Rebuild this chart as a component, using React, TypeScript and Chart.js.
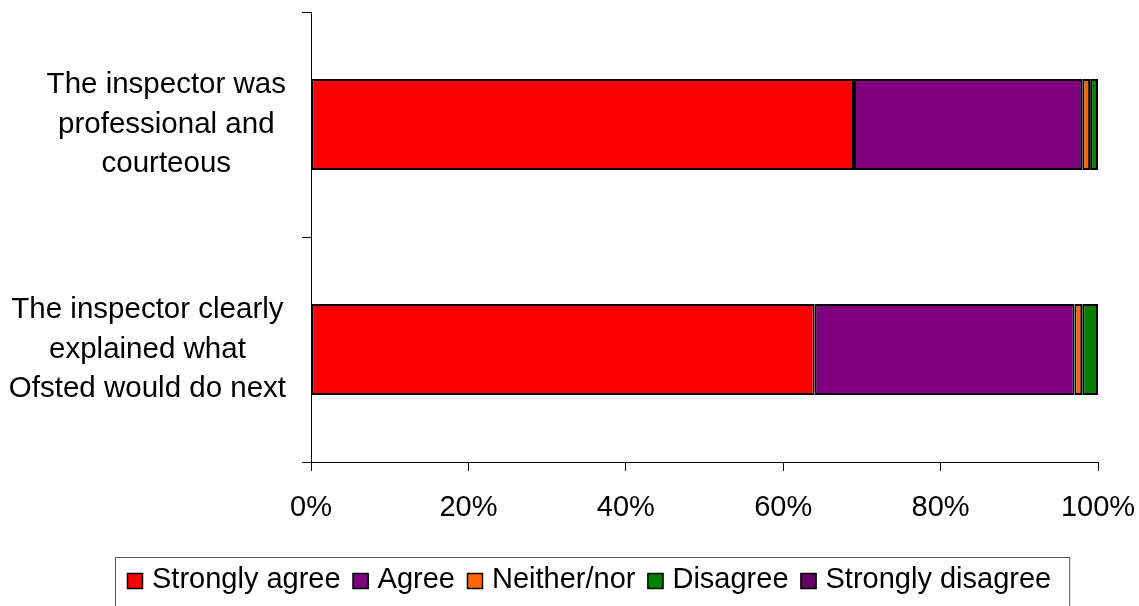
import React, { useEffect, useRef } from "react";
import { Chart, registerables } from "chart.js";

Chart.register(...registerables);

// Survey statements (one label per line)
const categories: string[][] = [
  ["The inspector was", "professional and", "courteous"],
  ["The inspector clearly", "explained what", "Ofsted would do next"],
];

// Share of responses (%) per statement
const stronglyAgree = [69, 64];
const agree = [29, 33];
const neitherNor = [1, 1];
const disagree = [1, 2];
const stronglyDisagree = [0, 0];

const seriesNames = ["Strongly agree", "Agree", "Neither/nor", "Disagree", "Strongly disagree"];
const seriesColors = ["#FF0000", "#800080", "#FF6600", "#008000", "#660066"];

const xTicks = [0, 20, 40, 60, 80, 100];

const FONT = '"Liberation Sans", Arial, sans-serif';

// Multi-line category labels: each label block is right-aligned to the axis
// and its lines are centred within that block.
const categoryLabelPlugin = {
  id: "categoryLabels",
  afterDraw(chart: any) {
    const { ctx } = chart;
    const yScale = chart.scales.y;
    const size = 29.5;
    const lineH = 39.5;
    ctx.save();
    ctx.font = `${size}px ${FONT}`;
    ctx.fillStyle = "#000";
    ctx.textAlign = "center";
    ctx.textBaseline = "alphabetic";
    const rightEdge = yScale.right - 25;
    categories.forEach((lines, i) => {
      const cy = yScale.getPixelForValue(i);
      const widest = Math.max(...lines.map((l) => ctx.measureText(l).width));
      const cx = rightEdge - widest / 2;
      const n = lines.length;
      lines.forEach((line, k) => {
        const base = cy + 8 + (k - (n - 1) / 2) * lineH;
        ctx.fillText(line, cx, base);
      });
    });
    ctx.restore();
  },
};

// Boxed legend along the bottom edge
const boxedLegendPlugin = {
  id: "boxedLegend",
  afterDraw(chart: any) {
    const { ctx } = chart;
    const datasets = chart.data.datasets;
    const size = 29;
    const left = 115;
    const top = 557;
    const marker = 16;
    ctx.save();
    ctx.font = `${size}px ${FONT}`;
    ctx.textBaseline = "alphabetic";
    ctx.textAlign = "left";
    let x = left + 12;
    datasets.forEach((ds: any) => {
      ctx.fillStyle = ds.backgroundColor;
      ctx.fillRect(x, 573, marker, marker);
      ctx.strokeStyle = "#000";
      ctx.lineWidth = 1.5;
      ctx.strokeRect(x + 0.5, 573.5, marker - 1, marker - 1);
      const tx = x + marker + 9;
      ctx.fillStyle = "#000";
      ctx.fillText(ds.label, tx, 588);
      x = tx + ctx.measureText(ds.label).width + 12;
    });
    const right = x + 6;
    ctx.strokeStyle = "#555";
    ctx.lineWidth = 1;
    ctx.strokeRect(left + 0.5, top + 0.5, right - left, 80);
    ctx.restore();
  },
};

export default function App() {
  const canvasRef = useRef<HTMLCanvasElement | null>(null);

  useEffect(() => {
    const canvas = canvasRef.current;
    if (!canvas) return;
    const values = [stronglyAgree, agree, neitherNor, disagree, stronglyDisagree];
    const chart = new Chart(canvas, {
      type: "bar",
      data: {
        labels: categories.map((c) => c.join(" ")),
        datasets: seriesNames.map((name, i) => ({
          label: name,
          data: values[i],
          backgroundColor: seriesColors[i],
          borderColor: "#000",
          borderWidth: 2,
          borderSkipped: false,
          categoryPercentage: 1,
          barPercentage: 0.405,
        })),
      },
      options: {
        indexAxis: "y",
        responsive: false,
        animation: false,
        layout: { padding: { top: 12, right: 41, bottom: 0, left: 0 } },
        plugins: {
          legend: { display: false },
          tooltip: { enabled: false },
        },
        scales: {
          x: {
            type: "linear",
            stacked: true,
            min: 0,
            max: 100,
            afterBuildTicks: (scale: any) => {
              scale.ticks = xTicks.map((v) => ({ value: v }));
            },
            afterFit: (scale: any) => {
              scale.height = 144;
              scale.paddingLeft = 0;
              scale.paddingRight = 0;
            },
            ticks: {
              callback: (v: any) => `${v}%`,
              font: { family: FONT, size: 29 },
              color: "#000",
              padding: 20,
              maxRotation: 0,
            },
            grid: {
              drawOnChartArea: false,
              drawTicks: true,
              tickLength: 9,
              color: "#000",
              lineWidth: 1,
            },
            border: { display: true, color: "#000", width: 1 },
          },
          y: {
            type: "category",
            stacked: true,
            offset: true,
            afterFit: (scale: any) => {
              scale.width = 311;
              scale.paddingTop = 0;
              scale.paddingBottom = 0;
            },
            ticks: { display: false },
            grid: {
              offset: true,
              drawOnChartArea: false,
              drawTicks: true,
              tickLength: 9,
              color: "#000",
              lineWidth: 1,
            },
            border: { display: true, color: "#000", width: 1 },
          },
        },
      },
      plugins: [categoryLabelPlugin, boxedLegendPlugin],
    } as any);
    return () => chart.destroy();
  }, []);

  return (
    <div style={{ position: "fixed", left: 0, top: 0, width: 1139, height: 606, background: "#fff" }}>
      <canvas ref={canvasRef} width={1139} height={606} style={{ display: "block" }} />
    </div>
  );
}
